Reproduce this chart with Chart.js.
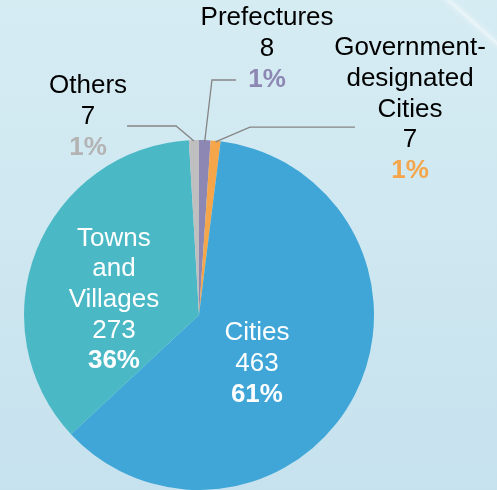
<!DOCTYPE html>
<html>
<head>
<meta charset="utf-8">
<script src="https://cdn.jsdelivr.net/npm/chart.js@4.4.1/dist/chart.umd.min.js"></script>
<style>
  html, body { margin: 0; padding: 0; background: #d3eaf2; }
  #wrap { width: 497px; height: 490px; position: relative; }
</style>
</head>
<body>
<div id="wrap"><canvas id="c" width="497" height="490"></canvas></div>
<script>
// ---- data ----
const categories = ['Prefectures', 'Government-designated Cities', 'Cities', 'Towns and Villages', 'Others'];
const counts = [8, 7, 463, 273, 7];
const nameLines = [['Prefectures'], ['Government-', 'designated', 'Cities'], ['Cities'], ['Towns', 'and', 'Villages'], ['Others']];
const sliceColors = ['#8d87b3', '#f5a54a', '#3fa6d7', '#4bb9c5', '#bfbfbf'];
const pctColors = ['#8d87b3', '#f5a54a', '#ffffff', '#ffffff', '#b3b3b3'];
const textColors = ['#000000', '#000000', '#ffffff', '#ffffff', '#000000'];

const total = counts.reduce((a, b) => a + b, 0);
const percents = counts.map(v => Math.round(v / total * 100) + '%');

// label block centers (in units of pie radius, relative to pie centre)
const labelPos = [
  { dx: 0.389, dy: -1.522 },
  { dx: 1.206, dy: -1.174 },
  { dx: 0.331, dy: 0.279 },
  { dx: -0.486, dy: -0.087 },
  { dx: -0.634, dy: -1.133 }
];
// leader lines: elbow & end points (radius units), null = inside label
const leaders = [
  { ex: 0.074, ey: -1.343, tx: 0.211, ty: -1.343 },
  { ex: 0.291, ey: -1.074, tx: 0.891, ty: -1.074 },
  null,
  null,
  { ex: -0.131, ey: -1.080, tx: -0.411, ty: -1.080 }
];

const FONT = '"Liberation Sans", Arial, sans-serif';
const FS = 26;
const LH = 30.7;

const bgPlugin = {
  id: 'bg',
  beforeDraw(chart) {
    const ctx = chart.ctx, w = chart.width, h = chart.height;
    ctx.save();
    const g = ctx.createLinearGradient(0, 0, 0, h);
    g.addColorStop(0, '#d6ecf3');
    g.addColorStop(1, '#c6e2ee');
    ctx.fillStyle = g;
    ctx.fillRect(0, 0, w, h);
    // soft white diagonal streak top-right
    ctx.lineCap = 'round';
    const passes = [[12, 'rgba(255,255,255,0.08)'], [7, 'rgba(255,255,255,0.14)'], [3, 'rgba(255,255,255,0.35)']];
    passes.forEach(([lw, col]) => {
      ctx.strokeStyle = col; ctx.lineWidth = lw;
      ctx.beginPath(); ctx.moveTo(446, -2); ctx.lineTo(500, 46); ctx.stroke();
    });
    ctx.restore();
  }
};

const labelPlugin = {
  id: 'labels',
  afterDatasetsDraw(chart) {
    const ctx = chart.ctx;
    const meta = chart.getDatasetMeta(0);
    ctx.save();
    meta.data.forEach((arc, i) => {
      const cx = arc.x, cy = arc.y, R = arc.outerRadius;
      const ld = leaders[i];
      if (ld) {
        const a = (arc.startAngle + arc.endAngle) / 2;
        ctx.strokeStyle = '#858585';
        ctx.lineWidth = 1.3;
        ctx.beginPath();
        ctx.moveTo(cx + Math.cos(a) * (R - 1), cy + Math.sin(a) * (R - 1));
        ctx.lineTo(cx + ld.ex * R, cy + ld.ey * R);
        ctx.lineTo(cx + ld.tx * R, cy + ld.ty * R);
        ctx.stroke();
      }
      const lines = nameLines[i].map(t => ({ t, bold: false, color: textColors[i] }));
      lines.push({ t: String(counts[i]), bold: false, color: textColors[i] });
      lines.push({ t: percents[i], bold: true, color: pctColors[i] });
      const bx = cx + labelPos[i].dx * R;
      const by = cy + labelPos[i].dy * R;
      const y0 = by - (lines.length - 1) / 2 * LH;
      ctx.textAlign = 'center';
      ctx.textBaseline = 'middle';
      lines.forEach((ln, k) => {
        ctx.font = (ln.bold ? 'bold ' : '') + FS + 'px ' + FONT;
        ctx.fillStyle = ln.color;
        ctx.fillText(ln.t, bx, y0 + k * LH);
      });
    });
    ctx.restore();
  }
};

new Chart(document.getElementById('c'), {
  type: 'pie',
  data: {
    labels: categories,
    datasets: [{
      data: counts,
      backgroundColor: sliceColors,
      borderWidth: 0
    }]
  },
  options: {
    responsive: false,
    animation: false,
    layout: { padding: { left: 24, top: 140, right: 123, bottom: 0 } },
    plugins: {
      legend: { display: false },
      tooltip: { enabled: false }
    }
  },
  plugins: [bgPlugin, labelPlugin]
});
</script>
</body>
</html>
